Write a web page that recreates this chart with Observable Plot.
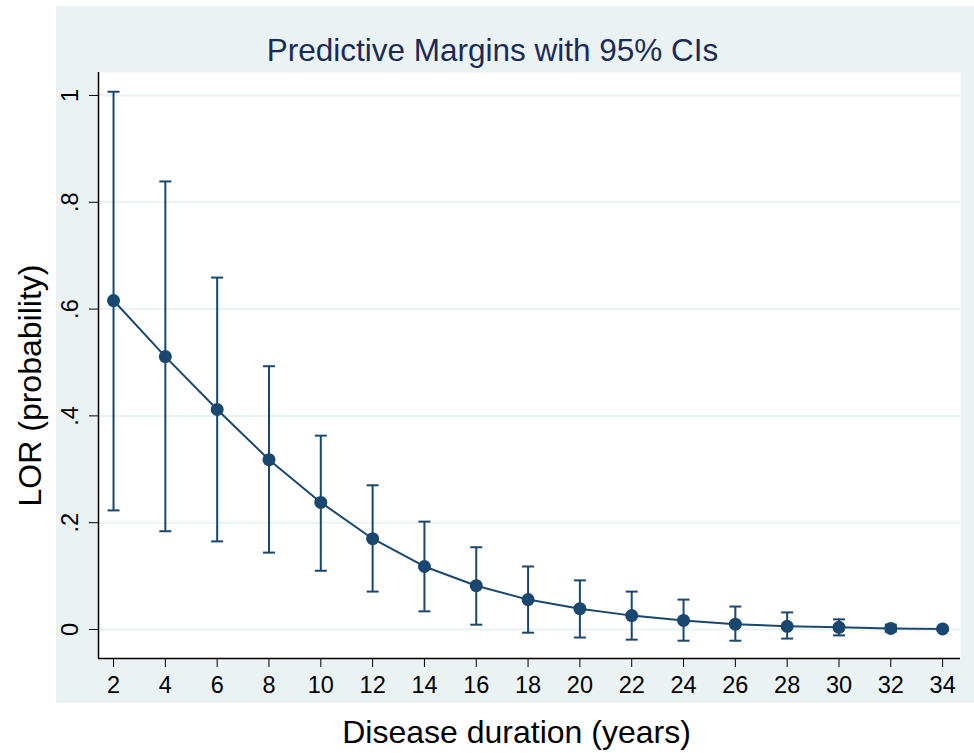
<!DOCTYPE html>
<html>
<head>
<meta charset="utf-8">
<script src="https://cdn.jsdelivr.net/npm/d3@7"></script>
<script src="https://cdn.jsdelivr.net/npm/@observablehq/plot@0.6"></script>
<style>
  html, body { margin: 0; padding: 0; background: #ffffff; }
  #wrap { position: relative; width: 974px; height: 753px; overflow: hidden; }
  #bg { position: absolute; left: 56px; top: 6px; width: 918px; height: 697px; background: #eaf2f3; }
  #chart { position: absolute; left: 0; top: 0; }
</style>
</head>
<body>
<div id="wrap"><div id="bg"></div><div id="chart"></div></div>
<script>
const duration = [2, 4, 6, 8, 10, 12, 14, 16, 18, 20, 22, 24, 26, 28, 30, 32, 34];
const margin   = [0.616, 0.511, 0.412, 0.318, 0.238, 0.170, 0.118, 0.082, 0.056, 0.039, 0.026, 0.017, 0.010, 0.006, 0.004, 0.002, 0.001];
const ciLow    = [0.223, 0.184, 0.165, 0.144, 0.110, 0.071, 0.034, 0.009, -0.006, -0.015, -0.019, -0.021, -0.021, -0.017, -0.011, -0.004, -0.002];
const ciHigh   = [1.007, 0.839, 0.659, 0.493, 0.363, 0.270, 0.202, 0.154, 0.118, 0.092, 0.071, 0.056, 0.043, 0.032, 0.019, 0.009, 0.004];
const xTicks = [2, 4, 6, 8, 10, 12, 14, 16, 18, 20, 22, 24, 26, 28, 30, 32, 34];
const yTicks = [0, 0.2, 0.4, 0.6, 0.8, 1];
const yTickLabels = ["0", ".2", ".4", ".6", ".8", "1"];
const titleText = "Predictive Margins with 95% CIs";
const xTitle = "Disease duration (years)";
const yTitle = "LOR (probability)";

const data = duration.map((d, i) => ({x: d, y: margin[i], lo: ciLow[i], hi: ciHigh[i]}));
const navy = "#1a476f";
const xDomain = [1.42, 34.69];
const yDomain = [-0.0543, 1.043];

const cap = {draw(ctx, size) { ctx.moveTo(-6, 0); ctx.lineTo(6, 0); }};

const plot = Plot.plot({
  width: 974,
  height: 753,
  marginLeft: 98,
  marginRight: 14,
  marginTop: 72,
  marginBottom: 95,
  style: {background: "transparent", fontFamily: "'Liberation Sans', Arial, sans-serif", color: "#000"},
  x: {domain: xDomain},
  y: {domain: yDomain},
  marks: [
    Plot.frame({fill: "white", stroke: null}),
    Plot.gridY(yTicks, {stroke: "#eaf2f3", strokeOpacity: 1, strokeWidth: 2}),
    Plot.ruleX(data, {x: "x", y1: "lo", y2: "hi", stroke: navy, strokeWidth: 2}),
    Plot.dot(data, {x: "x", y: "hi", symbol: cap, stroke: navy, strokeWidth: 2, fill: "none"}),
    Plot.dot(data, {x: "x", y: "lo", symbol: cap, stroke: navy, strokeWidth: 2, fill: "none"}),
    Plot.line(data, {x: "x", y: "y", stroke: navy, strokeWidth: 2}),
    Plot.dot(data, {x: "x", y: "y", r: 6.5, fill: navy, stroke: null}),
    Plot.ruleX([xDomain[0]], {stroke: "#000", strokeWidth: 1.5}),
    Plot.ruleY([yDomain[0]], {stroke: "#000", strokeWidth: 1.5}),
    Plot.axisX({ticks: xTicks, tickSize: 9, tickPadding: 9, fontSize: 23.5, label: null, tickFormat: d => String(d)}),
    Plot.axisY({ticks: yTicks, tickSize: 9, tickPadding: 12, fontSize: 23.5, label: null, tickRotate: -90,
      tickFormat: d => yTickLabels[yTicks.findIndex(t => Math.abs(t - d) < 1e-9)]}),
    Plot.text([titleText], {frameAnchor: "top", lineAnchor: "middle", dx: -37, dy: -22, fontSize: 31.5, fill: "#1c2a56"}),
    Plot.text([xTitle], {frameAnchor: "bottom", lineAnchor: "middle", dx: -13, dy: 74, fontSize: 32, fill: "#000"}),
    Plot.text([yTitle], {frameAnchor: "left", lineAnchor: "middle", textAnchor: "middle", dx: -68, dy: 20, rotate: -90, fontSize: 32, fill: "#000"})
  ]
});
document.getElementById("chart").appendChild(plot);
</script>
</body>
</html>
